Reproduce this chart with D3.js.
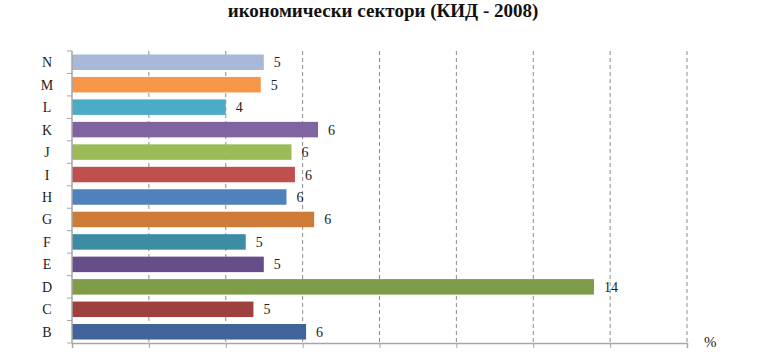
<!DOCTYPE html>
<html><head><meta charset="utf-8">
<script src="https://cdn.jsdelivr.net/npm/d3@7/dist/d3.min.js"></script>
<style>body{margin:0;background:#fff}svg{display:block}</style>
</head><body>
<script>
const categories = ["N","M","L","K","J","I","H","G","F","E","D","C","B"];
const values = [4.99, 4.91, 4.0, 6.4, 5.71, 5.8, 5.58, 6.3, 4.52, 4.99, 13.58, 4.72, 6.09];
const colors = ["#A8B8D9","#F79646","#4BACC6","#8064A2","#9BBB59","#C0504D","#4F81BD","#CE7B37","#3C8DA4","#674E8B","#7F9C48","#9E413E","#3F6499"];
const xTicks = [0,2,4,6,8,10,12,14,16];
const title = "икономически сектори (КИД - 2008)";
const unitLabel = "%";

(function(){
const W = 768, H = 352;
const svg = d3.select("body").append("svg").attr("width", W).attr("height", H);
const pL = 72, pR = 687, pT = 51, pB = 343;
const x = d3.scaleLinear().domain([0,16]).range([pL, pR]);
const y = d3.scaleBand().domain(categories).range([pT, pB]).paddingInner(0.31).paddingOuter(0.155);

const serif = "'Liberation Serif','Times New Roman',serif";

// gridlines
svg.append("g").selectAll("line").data(xTicks.slice(1)).join("line")
  .attr("x1", d => x(d)).attr("x2", d => x(d)).attr("y1", pT).attr("y2", pB)
  .attr("stroke", "#8c8c8c").attr("stroke-width", 1).attr("stroke-dasharray", "4,3");

// bars
svg.append("g").selectAll("rect").data(categories).join("rect")
  .attr("x", x(0)).attr("y", d => y(d))
  .attr("width", (d,i) => x(values[i]) - x(0)).attr("height", y.bandwidth())
  .attr("fill", (d,i) => colors[i]);

// value labels
svg.append("g").selectAll("text").data(categories).join("text")
  .attr("x", (d,i) => x(values[i]) + 10).attr("y", d => y(d) + y.bandwidth()/2 + 5)
  .attr("font-family", serif).attr("font-size", 14).attr("fill", "#222")
  .text((d,i) => d3.format(".0f")(values[i]));

// x axis
const xAxis = d3.axisBottom(x).tickValues(xTicks).tickSize(5).tickFormat("");
const gx = svg.append("g").attr("transform", `translate(0,${pB})`).call(xAxis);
gx.select(".domain").attr("stroke", "#a6a6a6").attr("stroke-width", 1.5);
gx.selectAll(".tick line").attr("stroke", "#a6a6a6");

// y axis
const gy = svg.append("g").attr("transform", `translate(${pL},0)`)
  .call(d3.axisLeft(y).tickSize(0).tickFormat(""));
gy.select(".domain").attr("d", `M0,${pT}V${pB}`).attr("stroke", "#a6a6a6").attr("stroke-width", 1.5);
gy.append("g").selectAll("line").data(d3.range(categories.length + 1)).join("line")
  .attr("x1", -5).attr("x2", 0)
  .attr("y1", i => pT + i * (pB - pT) / categories.length)
  .attr("y2", i => pT + i * (pB - pT) / categories.length)
  .attr("stroke", "#a6a6a6");

// category labels
svg.append("g").selectAll("text").data(categories).join("text")
  .attr("x", 47).attr("y", d => y(d) + y.bandwidth()/2 + 5)
  .attr("text-anchor", "middle").attr("font-family", serif).attr("font-size", 14).attr("fill", "#222")
  .text(d => d);

// title
svg.append("text").attr("x", 383).attr("y", 17).attr("text-anchor", "middle")
  .attr("font-family", serif).attr("font-size", 19).attr("font-weight", "bold").attr("fill", "#111")
  .text(title);

// unit
svg.append("text").attr("x", 704).attr("y", 347).attr("font-family", serif).attr("font-size", 15).attr("fill", "#222").text(unitLabel);
})();
</script>
</body></html>
